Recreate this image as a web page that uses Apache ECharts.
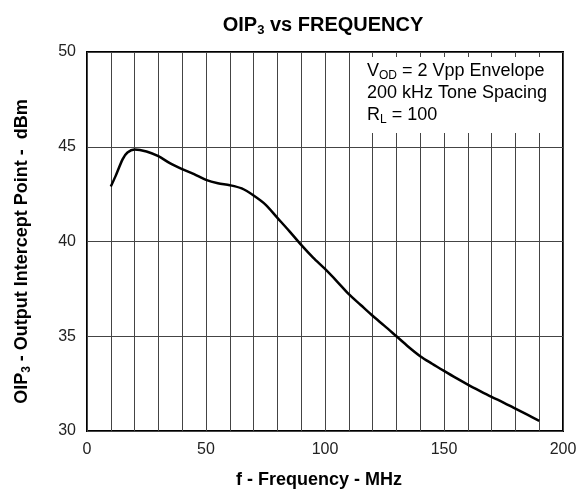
<!DOCTYPE html>
<html><head><meta charset="utf-8">
<script src="https://cdn.jsdelivr.net/npm/echarts@6/dist/echarts.min.js"></script>
<style>html,body{margin:0;padding:0;background:#fff}#c{width:586px;height:494px}</style>
</head><body><div id="c"></div>
<script>
const freqMHz = [10, 12, 15, 17, 20, 25, 30, 35, 40, 45, 50, 55, 60, 65, 70, 75, 80, 85, 90, 95, 100, 105, 110, 115, 120, 125, 130, 135, 140, 145, 150, 155, 160, 165, 170, 175, 180, 185, 190];
const oip3dBm = [42.9, 43.45, 44.35, 44.7, 44.86, 44.75, 44.5, 44.12, 43.82, 43.55, 43.25, 43.07, 42.97, 42.8, 42.43, 41.95, 41.25, 40.55, 39.82, 39.15, 38.55, 37.9, 37.22, 36.65, 36.08, 35.55, 35.0, 34.45, 33.95, 33.55, 33.17, 32.8, 32.45, 32.12, 31.8, 31.5, 31.18, 30.86, 30.54];
const xTickLabels = [0, 50, 100, 150, 200];
const yTickLabels = [30, 35, 40, 45, 50];
const noteLines = ['V{sub|OD} = 2 Vpp Envelope', '200 kHz Tone Spacing', 'R{sub|L} = 100'];

const FONT = '"Liberation Sans", Arial, sans-serif';
const chart = echarts.init(document.getElementById('c'), null, {renderer: 'canvas'});
const data = freqMHz.map((f, i) => [f, oip3dBm[i]]);
chart.setOption({
  animation: false,
  backgroundColor: '#fff',
  title: {
    text: 'OIP{sub|3} vs FREQUENCY',
    left: 318, top: 8, textAlign: 'center',
    textStyle: {
      fontFamily: FONT, fontSize: 20, fontWeight: 'bold', color: '#000',
      rich: { sub: {fontFamily: FONT, fontSize: 13, fontWeight: 'bold', color: '#000', padding: [11, 0, 0, 0]} }
    }
  },
  grid: {left: 87, right: 23, top: 52, bottom: 61, show: true, borderColor: '#000', borderWidth: 2, backgroundColor: 'transparent'},
  xAxis: {
    type: 'value', min: 0, max: 200, interval: 10,
    axisLine: {show: false}, axisTick: {show: false},
    splitLine: {show: true, lineStyle: {color: '#444', width: 1}},
    axisLabel: {
      fontFamily: FONT, fontSize: 16, color: '#222', margin: 11,
      formatter: v => xTickLabels.includes(v) ? String(v) : ''
    },
    name: 'f - Frequency - MHz', nameLocation: 'middle', nameGap: 40,
    nameTextStyle: {fontFamily: FONT, fontSize: 18, fontWeight: 'bold', color: '#000', padding: [0, 12, 0, 0]}
  },
  yAxis: {
    type: 'value', min: 30, max: 50, interval: 5,
    axisLine: {show: false}, axisTick: {show: false},
    splitLine: {show: true, lineStyle: {color: '#444', width: 1}},
    axisLabel: {
      fontFamily: FONT, fontSize: 16, color: '#222', margin: 11,
      formatter: v => yTickLabels.includes(v) ? String(v) : ''
    },
    name: 'OIP{sub|3} - Output Intercept Point -  dBm', nameLocation: 'middle', nameGap: 54, nameRotate: 90,
    nameTextStyle: {
      fontFamily: FONT, fontSize: 18, fontWeight: 'bold', color: '#000', padding: [0, 20, 0, 0],
      rich: { sub: {fontFamily: FONT, fontSize: 12, fontWeight: 'bold', color: '#000', padding: [9, 0, 0, 0]} }
    }
  },
  graphic: [{
    type: 'rect', left: 362, top: 57, shape: {width: 199, height: 76},
    style: {fill: '#fff'}, z: 10
  }, {
    type: 'text', left: 367, top: 60, z: 11,
    style: {
      text: noteLines.join('\n'), fontFamily: FONT, fontSize: 18, fill: '#000', lineHeight: 22,
      rich: { sub: {fontFamily: FONT, fontSize: 12, fill: '#000', padding: [9, 0, 0, 0], lineHeight: 22} }
    }
  }],
  series: [{
    type: 'line', data: data, smooth: 0.3, symbol: 'none',
    lineStyle: {color: '#000', width: 2.5}, z: 5
  }]
});
</script></body></html>
